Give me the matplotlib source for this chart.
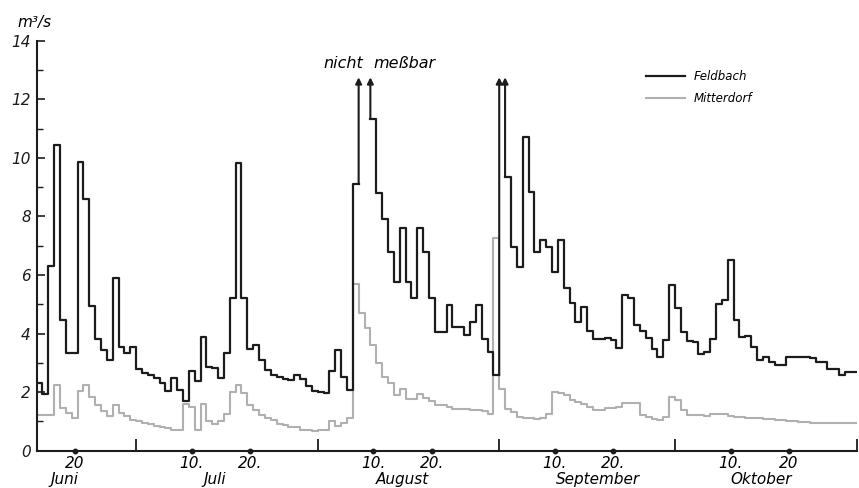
import numpy as np
import matplotlib.pyplot as plt

plt.rcParams['font.family'] = ['DejaVu Sans']
plt.rcParams['font.style'] = 'italic'

# daily discharge in m3/s, 14 June - 31 October (nan = nicht messbar)
feldbach = [2.3, 1.95, 6.3, 10.45, 4.46, 3.32, 3.32, 9.85, 8.6, 4.94,
            3.8, 3.45, 3.1, 5.9, 3.55, 3.35, 3.55, 2.8, 2.65, 2.58,
            2.47, 2.32, 2.05, 2.47, 2.07, 1.7, 2.73, 2.39, 3.89, 2.87,
            2.81, 2.47, 3.32, 5.2, 9.83, 5.2, 3.46, 3.6, 3.1, 2.75,
            2.58, 2.5, 2.45, 2.4, 2.6, 2.45, 2.2, 2.05, 2.0, 1.96,
            2.72, 3.44, 2.53, 2.07, 9.12, np.nan, np.nan, 11.34, 8.8, 7.9,
            6.8, 5.77, 7.59, 5.77, 5.2, 7.59, 6.79, 5.2, 4.06, 4.06,
            4.97, 4.23, 4.23, 3.95, 4.4, 4.97, 3.83, 3.38, 2.58, np.nan,
            9.35, 6.96, 6.28, 10.7, 8.84, 6.79, 7.2, 6.96, 6.1, 7.2,
            5.54, 5.03, 4.4, 4.9, 4.1, 3.83, 3.83, 3.85, 3.78, 3.49,
            5.31, 5.2, 4.29, 4.1, 3.85, 3.47, 3.2, 3.78, 5.65, 4.86,
            4.06, 3.75, 3.72, 3.3, 3.38, 3.8, 5.0, 5.16, 6.5, 4.46,
            3.89, 3.92, 3.55, 3.1, 3.2, 3.04, 2.92, 2.92, 3.2, 3.2,
            3.2, 3.2, 3.15, 3.04, 3.04, 2.8, 2.8, 2.58, 2.7, 2.7]

mitterdorf = [1.22, 1.22, 1.22, 2.24, 1.45, 1.3, 1.1, 2.05, 2.24, 1.85,
              1.55, 1.35, 1.2, 1.55, 1.3, 1.2, 1.05, 1.0, 0.95, 0.9,
              0.85, 0.82, 0.78, 0.72, 0.7, 1.6, 1.5, 0.7, 1.6, 1.0,
              0.9, 1.0, 1.25, 2.0, 2.24, 1.96, 1.56, 1.39, 1.22, 1.1,
              1.05, 0.9, 0.88, 0.82, 0.8, 0.72, 0.7, 0.68, 0.7, 0.7,
              1.0, 0.85, 0.95, 1.1, 5.7, 4.7, 4.2, 3.6, 3.0, 2.5,
              2.3, 1.9, 2.1, 1.75, 1.75, 1.95, 1.8, 1.7, 1.56, 1.56,
              1.5, 1.44, 1.44, 1.41, 1.4, 1.39, 1.35, 1.27, 7.25, 2.1,
              1.44, 1.33, 1.16, 1.1, 1.1, 1.08, 1.1, 1.27, 2.0, 1.96,
              1.9, 1.73, 1.65, 1.6, 1.5, 1.4, 1.4, 1.45, 1.45, 1.5,
              1.62, 1.62, 1.62, 1.22, 1.16, 1.08, 1.05, 1.16, 1.84, 1.73,
              1.4, 1.22, 1.22, 1.22, 1.2, 1.27, 1.27, 1.27, 1.2, 1.16,
              1.16, 1.12, 1.1, 1.1, 1.08, 1.07, 1.05, 1.05, 1.0, 1.0,
              0.99, 0.98, 0.96, 0.95, 0.95, 0.94, 0.93, 0.93, 0.93, 0.93]

# calendar, counted in days from 1 June
first_day = 13
month_starts = [0, 30, 61, 92, 122, 153]
month_names = ['Juni', 'Juli', 'August', 'September', 'Oktober']
month_label_x = [17.7, 43.5, 75.5, 108.8, 136.7]
day_of_month = [(0, 20), (1, 10), (1, 20), (2, 10), (2, 20),
                (3, 10), (3, 20), (4, 10), (4, 20)]
day_labels = ['20', '10.', '20.', '10.', '20.', '10.', '20.', '10.', '20']

black = '#1c1c1c'
grey = '#b0b0b0'
arrow_top = 12.75

fb = np.array(feldbach, dtype=float)
md = np.array(mitterdorf, dtype=float)
edges = first_day + np.arange(len(fb) + 1)

fig = plt.figure(figsize=(8.59, 4.88), dpi=100)
ax = fig.add_axes([36.5 / 859, 37.3 / 488, 820 / 859, 410 / 488])

ax.step(edges, np.append(md, md[-1]), where='post', color=grey, lw=1.5,
        label='Mitterdorf', zorder=2)
ax.step(edges, np.append(fb, fb[-1]), where='post', color=black, lw=1.6,
        label='Feldbach', zorder=3)

# arrows where Feldbach went off the gauge
gap = np.isnan(fb)
starts = np.where(gap & ~np.roll(gap, 1))[0]
ends = np.where(gap & ~np.roll(gap, -1))[0] + 1
for s, e in zip(starts, ends):
    for x, v in ((edges[s], fb[s - 1]), (edges[e], fb[e])):
        ax.annotate('', xy=(x, arrow_top), xytext=(x, v),
                    arrowprops=dict(arrowstyle='-|>', color=black, lw=1.5,
                                    mutation_scale=9, shrinkA=0, shrinkB=0))
ax.text(edges[starts[0]] + 0.7, 12.95, 'nicht', ha='right', va='bottom', fontsize=11.5)
ax.text(edges[ends[0]] + 0.6, 12.95, 'meßbar', ha='left', va='bottom', fontsize=11.5)

ax.set_xlim(first_day, month_starts[-1])
ax.set_ylim(0, 14)

for side in ('top', 'right'):
    ax.spines[side].set_visible(False)
for side in ('left', 'bottom'):
    ax.spines[side].set_linewidth(1.5)
    ax.spines[side].set_color(black)

ax.set_yticks(np.arange(0, 15, 2))
ax.set_yticks(np.arange(1, 14, 2), minor=True)
ax.tick_params(axis='y', which='major', direction='in', length=6, width=1.2,
               labelsize=11, pad=4, colors=black)
ax.tick_params(axis='y', which='minor', direction='in', length=4, width=1.0,
               colors=black)

# month boundaries as ticks, 10th/20th as dots on the axis
ax.set_xticks(month_starts[1:])
ax.set_xticklabels([])
ax.tick_params(axis='x', which='major', direction='in', length=9, width=1.3,
               colors=black)
day_x = [month_starts[m] + d - 0.5 for m, d in day_of_month]
ax.set_xticks(day_x, minor=True)
ax.set_xticklabels(day_labels, minor=True)
ax.tick_params(axis='x', which='minor', length=0, labelsize=11, pad=3.5)
ax.plot(day_x, np.zeros(len(day_x)), 'o', color=black, ms=3.2, clip_on=False,
        zorder=5)

trans = ax.get_xaxis_transform()
for x, name in zip(month_label_x, month_names):
    ax.text(x, -0.07, name, transform=trans, ha='center', va='center',
            fontsize=11)

ax.text(-0.002, 1.045, 'm³/s', transform=ax.transAxes, ha='center',
        va='center', fontsize=11)

handles, labels = ax.get_legend_handles_labels()
ax.legend(handles[::-1], labels[::-1], loc='upper left',
          bbox_to_anchor=(0.738, 0.94), frameon=False, handlelength=3.3,
          handletextpad=0.7, labelspacing=0.8, fontsize=8.5,
          borderaxespad=0)

plt.savefig('out.png', dpi=100)
